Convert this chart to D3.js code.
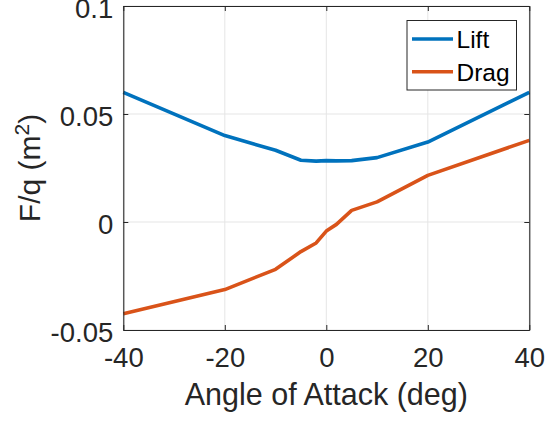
<!DOCTYPE html>
<html>
<head>
<meta charset="utf-8">
<script src="https://cdn.jsdelivr.net/npm/d3@7"></script>
<style>
  body { margin: 0; background: #fff; }
  text { font-family: "Liberation Sans", Arial, Helvetica, sans-serif; fill: #262626; }
</style>
</head>
<body>
<svg id="chart" width="547" height="421"></svg>
<script>
// Aerodynamic force per dynamic pressure vs. angle of attack
const angles = [-40, -20, -10, -5, -2, 0, 2, 5, 10, 20, 40];
const lift   = [0.0600, 0.0400, 0.0332, 0.0286, 0.0282, 0.0284, 0.0283, 0.0284, 0.0298, 0.0370, 0.0600];
const drag   = [-0.0425, -0.0313, -0.0219, -0.0137, -0.0097, -0.0042, -0.0011, 0.0054, 0.0093, 0.0216, 0.0378];
const seriesNames = ["Lift", "Drag"];
const xTicks = [-40, -20, 0, 20, 40];
const xTickLabels = ["-40", "-20", "0", "20", "40"];
const yTicks = [-0.05, 0, 0.05, 0.1];
const yTickLabels = ["-0.05", "0", "0.05", "0.1"];

const W = 547, H = 421;
const m = { left: 123.3, right: W - 529.3, top: 6, bottom: H - 330 };
const colors = ["#0072BD", "#D95319"];
const axisColor = "#262626";

const svg = d3.select("#chart");
const x = d3.scaleLinear().domain([-40, 40]).range([m.left, W - m.right]);
const y = d3.scaleLinear().domain([-0.05, 0.1]).range([H - m.bottom, m.top]);

// grid
const grid = svg.append("g").attr("stroke", "#e5e5e5").attr("stroke-width", 1);
grid.selectAll(".gx").data(xTicks).join("line")
  .attr("x1", d => x(d)).attr("x2", d => x(d))
  .attr("y1", y.range()[1]).attr("y2", y.range()[0]);
grid.selectAll(".gy").data(yTicks).join("line")
  .attr("y1", d => y(d)).attr("y2", d => y(d))
  .attr("x1", x.range()[0]).attr("x2", x.range()[1]);

// data lines
const line = d3.line().x((d, i) => x(angles[i])).y(d => y(d));
[lift, drag].forEach((s, k) => {
  svg.append("path").datum(s)
    .attr("fill", "none")
    .attr("stroke", colors[k])
    .attr("stroke-width", 3.6)
    .attr("stroke-linejoin", "round")
    .attr("d", line);
});

// axes (box with inward ticks)
const tickLen = 5;
const bottomAxis = d3.axisBottom(x).tickValues(xTicks).tickSizeInner(-tickLen).tickSizeOuter(0).tickFormat((d, i) => xTickLabels[i]);
const topAxis = d3.axisTop(x).tickValues(xTicks).tickSizeInner(-tickLen).tickSizeOuter(0).tickFormat("");
const leftAxis = d3.axisLeft(y).tickValues(yTicks).tickSizeInner(-tickLen).tickSizeOuter(0).tickFormat((d, i) => yTickLabels[i]);
const rightAxis = d3.axisRight(y).tickValues(yTicks).tickSizeInner(-tickLen).tickSizeOuter(0).tickFormat("");

function styleAxis(g) {
  g.selectAll("path.domain").attr("stroke", axisColor).attr("stroke-width", 1.1);
  g.selectAll(".tick line").attr("stroke", axisColor).attr("stroke-width", 1);
  g.selectAll(".tick text").attr("fill", axisColor).style("font-size", "27.5px")
    .style("font-family", '"Liberation Sans", Arial, sans-serif');
}

const gb = svg.append("g").attr("transform", `translate(0,${H - m.bottom})`).call(bottomAxis).call(styleAxis);
gb.selectAll(".tick text").attr("y", 37).attr("dy", null);
svg.append("g").attr("transform", `translate(0,${m.top})`).call(topAxis).call(styleAxis);
const gl = svg.append("g").attr("transform", `translate(${m.left},0)`).call(leftAxis).call(styleAxis);
gl.selectAll(".tick text").attr("x", -10).attr("dy", null).attr("y", 11.5);
svg.append("g").attr("transform", `translate(${W - m.right},0)`).call(rightAxis).call(styleAxis);

// axis titles
svg.append("text")
  .attr("x", (x.range()[0] + x.range()[1]) / 2)
  .attr("y", 405)
  .attr("text-anchor", "middle")
  .style("font-size", "30.5px")
  .text("Angle of Attack (deg)");

const yl = svg.append("text")
  .attr("transform", `translate(40,${(y.range()[0] + y.range()[1]) / 2}) rotate(-90)`)
  .attr("text-anchor", "middle")
  .style("font-size", "30px");
yl.append("tspan").text("F/q (m");
yl.append("tspan").attr("dy", -11).style("font-size", "21px").text("2");
yl.append("tspan").attr("dy", 11).text(")");

// legend
const lg = svg.append("g");
lg.append("rect").attr("x", 407).attr("y", 20.5).attr("width", 109.5).attr("height", 69.5)
  .attr("fill", "#fff").attr("stroke", axisColor).attr("stroke-width", 1);
seriesNames.forEach((name, k) => {
  const ly = 39 + k * 32.7;
  lg.append("line").attr("x1", 412).attr("x2", 453).attr("y1", ly).attr("y2", ly)
    .attr("stroke", colors[k]).attr("stroke-width", 3.6);
  lg.append("text").attr("x", 456.5).attr("y", ly + 9).style("font-size", "24.5px")
    .attr("fill", "#000").style("fill", "#000").text(name);
});
</script>
</body>
</html>
